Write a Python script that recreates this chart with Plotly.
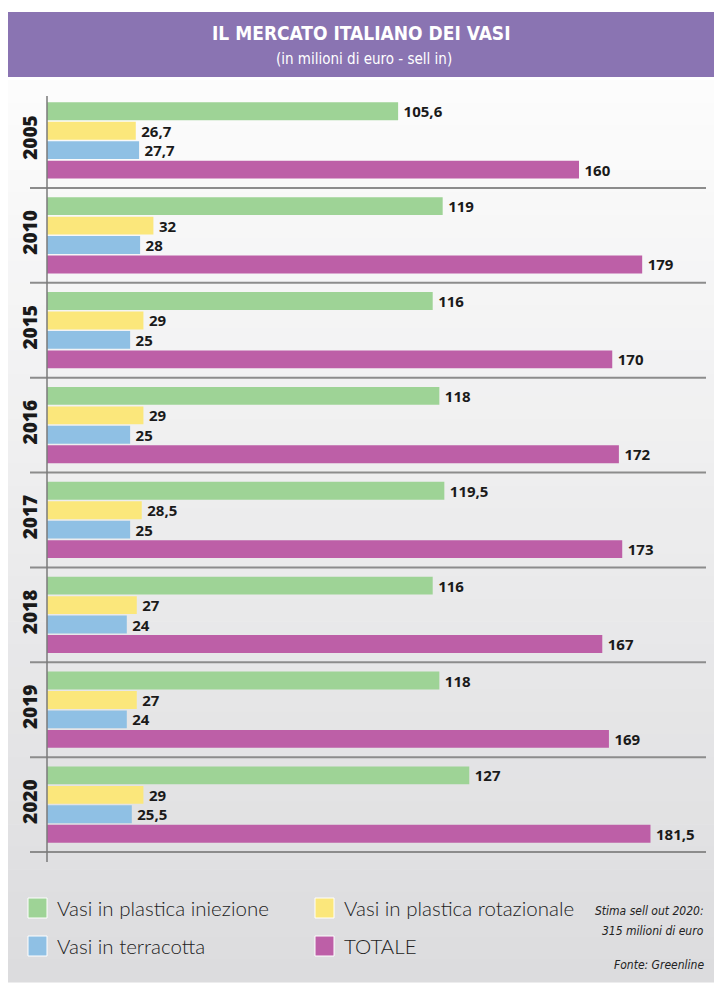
import plotly.graph_objects as go

years = ["2005", "2010", "2015", "2016", "2017", "2018", "2019", "2020"]
iniezione = [105.6, 119, 116, 118, 119.5, 116, 118, 127]
rotazionale = [26.7, 32, 29, 29, 28.5, 27, 27, 29]
terracotta = [27.7, 28, 25, 25, 25, 24, 24, 25.5]
totale = [160, 179, 170, 172, 173, 167, 169, 181.5]

series_names = ["Vasi in plastica iniezione", "Vasi in plastica rotazionale",
                "Vasi in terracotta", "TOTALE"]
series_vals = [iniezione, rotazionale, terracotta, totale]
colors = ["#9ed396", "#fbe77b", "#8fc0e4", "#bd5fa7"]

W, H = 721, 1000
L, R, T, B = 47, 16, 93, 147
PW, PH = W - L - R, H - T - B


def px(xp):
    return (xp - L) / PW


def py(yp):
    return (H - B - yp) / PH


def fmt(v):
    return ("%g" % v).replace(".", ",")


fig = go.Figure()
for name, vals, col in zip(series_names, series_vals, colors):
    fig.add_trace(go.Bar(
        y=years, x=vals, orientation="h", name=name,
        marker=dict(color=col, line=dict(width=0)),
        text=["\u2009" + fmt(v) for v in vals], textposition="outside",
        constraintext="none",
        textfont=dict(family="Open Sans", size=15, color="#1a1a1a", weight=700),
        cliponaxis=False, showlegend=False,
    ))

shapes = []
# background gradient panel
top_c = (252, 252, 252)
bot_c = (220, 220, 222)
y0p, y1p = 80, 982
n = 40
for i in range(n):
    t = i / (n - 1)
    c = tuple(int(round(top_c[k] + (bot_c[k] - top_c[k]) * t)) for k in range(3))
    ya = y0p + (y1p - y0p) * i / n
    yb = y0p + (y1p - y0p) * (i + 1) / n
    shapes.append(dict(type="rect", xref="paper", yref="paper", layer="below",
                       x0=px(8), x1=px(714), y0=py(yb + 0.6), y1=py(ya),
                       fillcolor="rgb(%d,%d,%d)" % c, line=dict(width=0)))
# title band
shapes.append(dict(type="rect", xref="paper", yref="paper", layer="below",
                   x0=px(8), x1=px(714), y0=py(77), y1=py(12),
                   fillcolor="#8a74b2", line=dict(width=0)))
# group separators
for i in range(len(years)):
    shapes.append(dict(type="line", xref="paper", yref="y",
                       x0=px(30), x1=px(706), y0=i + 0.5, y1=i + 0.5,
                       line=dict(color="#8c8c8c", width=2)))
# vertical axis line
shapes.append(dict(type="line", xref="paper", yref="paper",
                   x0=px(47), x1=px(47), y0=py(96), y1=py(862),
                   line=dict(color="#7a7a7a", width=1.5)))

cond = "DejaVu Sans Condensed, Liberation Sans Narrow, Roboto"
annotations = [
    dict(text="<b>IL MERCATO ITALIANO DEI VASI</b>", xref="paper", yref="paper",
         x=px(361), y=py(33), xanchor="center", yanchor="middle", showarrow=False,
         font=dict(family=cond, size=19, color="white")),
    dict(text="(in milioni di euro - sell in)", xref="paper", yref="paper",
         x=px(364), y=py(59), xanchor="center", yanchor="middle", showarrow=False,
         font=dict(family=cond, size=15, color="white")),
]

# custom legend
leg_pos = [(28, 908), (315, 908), (28, 946), (315, 946)]
for (lx, ly), name, col in zip(leg_pos, series_names, colors):
    shapes.append(dict(type="rect", xref="paper", yref="paper",
                       x0=px(lx), x1=px(lx + 19), y0=py(ly + 10), y1=py(ly - 10),
                       fillcolor=col, line=dict(color="white", width=1)))
    annotations.append(dict(text=name, xref="paper", yref="paper",
                            x=px(lx + 27), y=py(ly), xanchor="left", yanchor="middle",
                            showarrow=False,
                            font=dict(family="Lato", size=20.5, color="#222222", weight=300)))

note_font = dict(family=cond, size=12, color="#222222", style="italic")
for txt, yy in [("Stima sell out 2020:", 911), ("315 milioni di euro", 931),
                ("Fonte: Greenline", 965)]:
    annotations.append(dict(text=txt, xref="paper", yref="paper", x=px(706), y=py(yy),
                            xanchor="right", yanchor="middle", showarrow=False,
                            font=note_font))

fig.update_layout(
    width=W, height=H,
    margin=dict(l=L, r=R, t=T, b=B, pad=0),
    paper_bgcolor="white", plot_bgcolor="rgba(0,0,0,0)",
    barmode="group", bargap=0.18, bargroupgap=0.08,
    shapes=shapes, annotations=annotations,
    xaxis=dict(range=[0, PW / 3.325], visible=False, showgrid=False, zeroline=False),
    yaxis=dict(autorange="reversed", type="category", showgrid=False, zeroline=False,
               showline=False, ticks="", tickangle=-90, ticklabelstandoff=5,
               tickfont=dict(family="Open Sans", size=19, color="#1a1a1a", weight=800)),
    font=dict(family="Open Sans"),
)

fig.write_html("out.html")
